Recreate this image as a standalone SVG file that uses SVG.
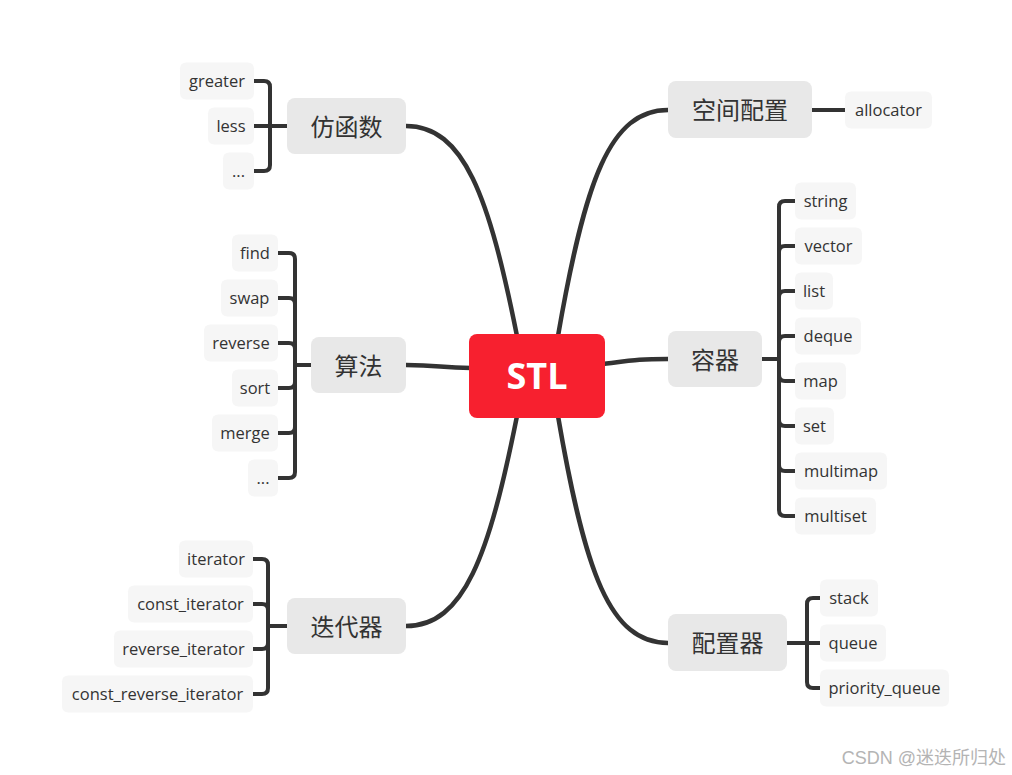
<svg xmlns="http://www.w3.org/2000/svg" width="1012" height="775" viewBox="0 0 1012 775">
<style>
.edge{fill:none;stroke:#333333;stroke-width:4.5;stroke-linecap:round}
.br{fill:none;stroke:#333333;stroke-width:4;stroke-linecap:butt;stroke-linejoin:round}
.topic rect{fill:#E8E8E8}
.topic text{font-family:"Noto Sans CJK SC","Noto Sans",sans-serif;font-size:24px;fill:#333333;text-anchor:middle;dominant-baseline:central}
.leaf rect{fill:#F6F6F6}
.leaf text{font-family:"Open Sans","Noto Sans",sans-serif;font-size:16.5px;fill:#333333;text-anchor:middle;dominant-baseline:central}
</style>
<rect width="1012" height="775" fill="#ffffff"/>
<g id="connectors">
<path class="edge" d="M406 126 C464 126 489 196 517 336"/>
<path class="edge" d="M406 365 C440 365 440 368 471 368"/>
<path class="edge" d="M406 626 C464 626 489 556 517 416"/>
<path class="edge" d="M668 110 C610 110 585 180 558 336"/>
<path class="edge" d="M603 364 C635 360 640 359 668 359"/>
<path class="edge" d="M668 643 C610 643 585 573 558 416"/>
<path class="br" d="M812 110 H845"/>
<path class="br" d="M270 126 V87 Q270 81 264 81 H254"/>
<path class="br" d="M287 126 H254"/>
<path class="br" d="M270 126 V165 Q270 171 264 171 H254"/>
<path class="br" d="M311 365 H295"/>
<path class="br" d="M295 365 V259 Q295 253 289 253 H278"/>
<path class="br" d="M295 365 V304 Q295 298 289 298 H278"/>
<path class="br" d="M295 365 V349 Q295 343 289 343 H278"/>
<path class="br" d="M295 365 V382 Q295 388 289 388 H278"/>
<path class="br" d="M295 365 V427 Q295 433 289 433 H278"/>
<path class="br" d="M295 365 V472 Q295 478 289 478 H278"/>
<path class="br" d="M287 626 H268"/>
<path class="br" d="M268 626 V565 Q268 559 262 559 H253"/>
<path class="br" d="M268 626 V610 Q268 604 262 604 H253"/>
<path class="br" d="M268 626 V643 Q268 649 262 649 H253"/>
<path class="br" d="M268 626 V688 Q268 694 262 694 H253"/>
<path class="br" d="M762 359 H779"/>
<path class="br" d="M779 359 V207 Q779 201 785 201 H795"/>
<path class="br" d="M779 359 V252 Q779 246 785 246 H795"/>
<path class="br" d="M779 359 V297 Q779 291 785 291 H795"/>
<path class="br" d="M779 359 V342 Q779 336 785 336 H795"/>
<path class="br" d="M779 359 V375 Q779 381 785 381 H795"/>
<path class="br" d="M779 359 V420 Q779 426 785 426 H795"/>
<path class="br" d="M779 359 V465 Q779 471 785 471 H795"/>
<path class="br" d="M779 359 V510 Q779 516 785 516 H795"/>
<path class="br" d="M787 643 H820"/>
<path class="br" d="M807 643 V604 Q807 598 813 598 H820"/>
<path class="br" d="M807 643 V682 Q807 688 813 688 H820"/>
</g>
<g id="root">
<rect x="469" y="334" width="136" height="84" rx="8" fill="#F7202F"/>
<text x="537" y="375" font-family="'Open Sans','Noto Sans',sans-serif" font-size="36" font-weight="bold" fill="#ffffff" text-anchor="middle" dominant-baseline="central">STL</text>
</g>
<g id="t-functor" class="topic"><rect x="287" y="98" width="119" height="56" rx="8"/><text x="346.5" y="125">仿函数</text></g>
<g id="t-algo" class="topic"><rect x="311" y="337" width="95" height="56" rx="8"/><text x="358.5" y="364">算法</text></g>
<g id="t-iter" class="topic"><rect x="287" y="598" width="119" height="56" rx="8"/><text x="346.5" y="625">迭代器</text></g>
<g id="t-alloc" class="topic"><rect x="668" y="81" width="144" height="57" rx="8"/><text x="740" y="108.5">空间配置</text></g>
<g id="t-cont" class="topic"><rect x="668" y="331" width="94" height="56" rx="8"/><text x="715" y="358">容器</text></g>
<g id="t-adapt" class="topic"><rect x="668" y="614" width="119" height="57" rx="8"/><text x="727.5" y="641.5">配置器</text></g>
<g id="l-greater" class="leaf"><rect x="180" y="62.5" width="74" height="37" rx="6"/><text x="217" y="80">greater</text></g>
<g id="l-less" class="leaf"><rect x="208" y="107.5" width="46" height="37" rx="6"/><text x="231" y="125">less</text></g>
<g id="l-fdots" class="leaf"><rect x="223" y="152.5" width="31" height="37" rx="6"/><text x="238.5" y="170">...</text></g>
<g id="l-find" class="leaf"><rect x="232" y="234.5" width="46" height="37" rx="6"/><text x="255" y="252">find</text></g>
<g id="l-swap" class="leaf"><rect x="221" y="279.5" width="57" height="37" rx="6"/><text x="249.5" y="297">swap</text></g>
<g id="l-reverse" class="leaf"><rect x="204" y="324.5" width="74" height="37" rx="6"/><text x="241" y="342">reverse</text></g>
<g id="l-sort" class="leaf"><rect x="232" y="369.5" width="46" height="37" rx="6"/><text x="255" y="387">sort</text></g>
<g id="l-merge" class="leaf"><rect x="212" y="414.5" width="66" height="37" rx="6"/><text x="245" y="432">merge</text></g>
<g id="l-adots" class="leaf"><rect x="248" y="459.5" width="30" height="37" rx="6"/><text x="263" y="477">...</text></g>
<g id="l-iterator" class="leaf"><rect x="179" y="540.5" width="74" height="37" rx="6"/><text x="216" y="558">iterator</text></g>
<g id="l-citer" class="leaf"><rect x="128" y="585.5" width="125" height="37" rx="6"/><text x="190.5" y="603">const_iterator</text></g>
<g id="l-riter" class="leaf"><rect x="114" y="630.5" width="139" height="37" rx="6"/><text x="183.5" y="648">reverse_iterator</text></g>
<g id="l-criter" class="leaf"><rect x="62" y="675.5" width="191" height="37" rx="6"/><text x="157.5" y="693">const_reverse_iterator</text></g>
<g id="l-allocator" class="leaf"><rect x="845" y="91.5" width="87" height="37" rx="6"/><text x="888.5" y="109">allocator</text></g>
<g id="l-string" class="leaf"><rect x="795" y="182.5" width="61" height="37" rx="6"/><text x="825.5" y="200">string</text></g>
<g id="l-vector" class="leaf"><rect x="795" y="227.5" width="67" height="37" rx="6"/><text x="828.5" y="245">vector</text></g>
<g id="l-list" class="leaf"><rect x="795" y="272.5" width="38" height="37" rx="6"/><text x="814" y="290">list</text></g>
<g id="l-deque" class="leaf"><rect x="795" y="317.5" width="66" height="37" rx="6"/><text x="828" y="335">deque</text></g>
<g id="l-map" class="leaf"><rect x="795" y="362.5" width="51" height="37" rx="6"/><text x="820.5" y="380">map</text></g>
<g id="l-set" class="leaf"><rect x="795" y="407.5" width="39" height="37" rx="6"/><text x="814.5" y="425">set</text></g>
<g id="l-multimap" class="leaf"><rect x="795" y="452.5" width="92" height="37" rx="6"/><text x="841" y="470">multimap</text></g>
<g id="l-multiset" class="leaf"><rect x="795" y="497.5" width="81" height="37" rx="6"/><text x="835.5" y="515">multiset</text></g>
<g id="l-stack" class="leaf"><rect x="820" y="579.5" width="58" height="37" rx="6"/><text x="849" y="597">stack</text></g>
<g id="l-queue" class="leaf"><rect x="820" y="624.5" width="66" height="37" rx="6"/><text x="853" y="642">queue</text></g>
<g id="l-pqueue" class="leaf"><rect x="820" y="669.5" width="129" height="37" rx="6"/><text x="884.5" y="687">priority_queue</text></g>
<text x="1006" y="764" font-family="'Liberation Sans','Noto Sans CJK SC',sans-serif" font-size="18" fill="#b4b4b4" text-anchor="end">CSDN @迷迭所归处</text>
</svg>
